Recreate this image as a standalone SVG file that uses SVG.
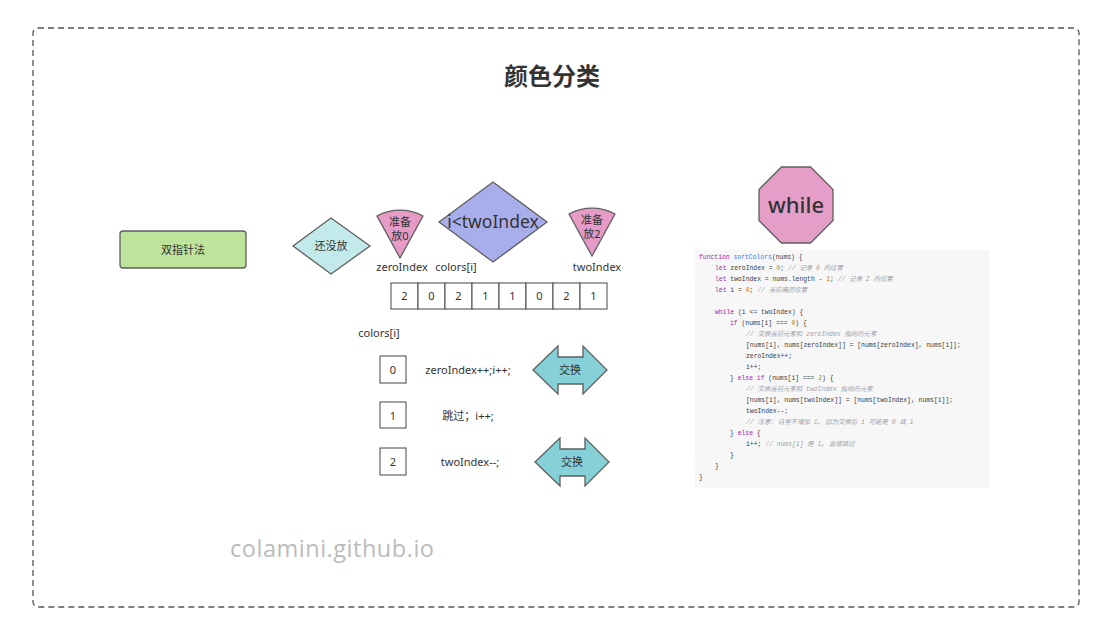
<svg xmlns="http://www.w3.org/2000/svg" width="1108" height="642" viewBox="0 0 1108 642">
<style>
.t{font-family:"Noto Sans","Noto Sans CJK SC",sans-serif;fill:#333;text-anchor:middle}
.s11{font-size:11px}
.shape{stroke:#5f5f5f;stroke-width:1.3}
.cell{fill:#fff;stroke:#444;stroke-width:1}
.code{font-family:"Liberation Mono","Noto Sans CJK SC",monospace;font-size:6.4px;fill:#383a42;white-space:pre}
.k{fill:#a626a4}.f{fill:#4078f2}.n{fill:#c07a00}.c{fill:#a0a1a7;font-style:italic}
</style>
<defs>
<path id="fan" d="M0,0 L-23,-42 A48,48 0 0 1 23,-42 Z"/>
<polygon id="dbl" points="0,0 25,-24 25,-13 50,-13 50,-24 74,0 50,24 50,14 25,14 25,24"/>
</defs>
<rect x="1" y="1" width="1106" height="640" fill="#fff"/>
<rect x="33" y="28" width="1046" height="579" rx="5" fill="none" stroke="#555" stroke-width="1.3" stroke-dasharray="6,4"/>
<text id="title" class="t" x="552" y="85" font-size="24" font-weight="bold">颜色分类</text>

<g id="node-method">
<rect class="shape" x="120" y="231" width="126" height="37" rx="3" fill="#bee39b"/>
<text class="t s11" x="183" y="254">双指针法</text>
</g>
<g id="node-notplaced">
<polygon class="shape" points="293,246 331,218 370,246 331,274" fill="#c2eaea"/>
<text class="t s11" x="331" y="250">还没放</text>
</g>
<g id="node-zero">
<use href="#fan" class="shape" x="400" y="258" fill="#e59bc6"/>
<text class="t s11" x="400" y="226">准备</text>
<text class="t s11" x="400" y="240">放0</text>
<text class="t s11" x="402" y="271">zeroIndex</text>
</g>
<g id="node-cond">
<polygon class="shape" points="439,222 493,182 547,222 493,262" fill="#a8adeb"/>
<text class="t" x="493" y="228" font-size="17.5">i&lt;twoIndex</text>
<text class="t s11" x="456" y="271">colors[i]</text>
</g>
<g id="node-two">
<use href="#fan" class="shape" x="592" y="256" fill="#e59bc6"/>
<text class="t s11" x="592" y="224">准备</text>
<text class="t s11" x="592" y="238">放2</text>
<text class="t s11" x="597" y="271">twoIndex</text>
</g>
<g id="node-array">
<rect class="cell" x="391" y="283" width="27" height="26"/>
<rect class="cell" x="418" y="283" width="27" height="26"/>
<rect class="cell" x="445" y="283" width="27" height="26"/>
<rect class="cell" x="472" y="283" width="27" height="26"/>
<rect class="cell" x="499" y="283" width="27" height="26"/>
<rect class="cell" x="526" y="283" width="27" height="26"/>
<rect class="cell" x="553" y="283" width="27" height="26"/>
<rect class="cell" x="580" y="283" width="27" height="26"/>
<text class="t s11" x="404.5" y="300">2</text>
<text class="t s11" x="431.5" y="300">0</text>
<text class="t s11" x="458.5" y="300">2</text>
<text class="t s11" x="485.5" y="300">1</text>
<text class="t s11" x="512.5" y="300">1</text>
<text class="t s11" x="539.5" y="300">0</text>
<text class="t s11" x="566.5" y="300">2</text>
<text class="t s11" x="593.5" y="300">1</text>
</g>
<text id="label-colors" class="t s11" x="379" y="337">colors[i]</text>
<g id="node-case0">
<rect class="cell" x="380" y="356" width="26" height="27"/>
<text class="t s11" x="393" y="374">0</text>
<text class="t s11" x="468" y="374">zeroIndex++;i++;</text>
</g>
<g id="node-case1">
<rect class="cell" x="380" y="402" width="26" height="26"/>
<text class="t s11" x="393" y="420">1</text>
<text class="t s11" x="468" y="420">跳过；i++;</text>
</g>
<g id="node-case2">
<rect class="cell" x="380" y="448" width="26" height="27"/>
<text class="t s11" x="393" y="466">2</text>
<text class="t s11" x="470" y="466">twoIndex--;</text>
</g>
<g id="node-swap1">
<use href="#dbl" class="shape" x="533" y="370" fill="#86d1d7"/>
<text class="t s11" x="570" y="374">交换</text>
</g>
<g id="node-swap2">
<use href="#dbl" class="shape" x="535" y="462" fill="#86d1d7"/>
<text class="t s11" x="572" y="466">交换</text>
</g>
<g id="node-while">
<polygon class="shape" points="781.5,167 810.5,167 833,189.5 833,220.5 810.5,243 781.5,243 759,220.5 759,189.5" fill="#e59ec8"/>
<text class="t" x="796" y="213" font-size="22" font-weight="500">while</text>
</g>
<g id="node-code">
<rect x="695" y="250" width="294" height="238" fill="#f7f7f7"/>
<text class="code" x="699" y="259"><tspan class="k">function</tspan> <tspan class="f">sortColors</tspan>(nums) {</text>
<text class="code" x="715" y="270"><tspan class="k">let</tspan> zeroIndex = <tspan class="n">0</tspan>; <tspan class="c">// 记录 0 的位置</tspan></text>
<text class="code" x="715" y="281"><tspan class="k">let</tspan> twoIndex = nums.length - <tspan class="n">1</tspan>; <tspan class="c">// 记录 2 的位置</tspan></text>
<text class="code" x="715" y="292"><tspan class="k">let</tspan> i = <tspan class="n">0</tspan>; <tspan class="c">// 当前遍历位置</tspan></text>
<text class="code" x="715" y="314"><tspan class="k">while</tspan> (i &lt;= twoIndex) {</text>
<text class="code" x="730" y="325"><tspan class="k">if</tspan> (nums[i] === <tspan class="n">0</tspan>) {</text>
<text class="code c" x="746" y="336">// 交换当前元素和 zeroIndex 指向的元素</text>
<text class="code" x="746" y="347">[nums[i], nums[zeroIndex]] = [nums[zeroIndex], nums[i]];</text>
<text class="code" x="746" y="358">zeroIndex++;</text>
<text class="code" x="746" y="369">i++;</text>
<text class="code" x="730" y="380">} <tspan class="k">else if</tspan> (nums[i] === <tspan class="n">2</tspan>) {</text>
<text class="code c" x="746" y="391">// 交换当前元素和 twoIndex 指向的元素</text>
<text class="code" x="746" y="402">[nums[i], nums[twoIndex]] = [nums[twoIndex], nums[i]];</text>
<text class="code" x="746" y="413">twoIndex--;</text>
<text class="code c" x="746" y="424">// 注意: 这里不增加 i, 因为交换后 i 可能是 0 或 1</text>
<text class="code" x="730" y="435">} <tspan class="k">else</tspan> {</text>
<text class="code" x="746" y="446">i++; <tspan class="c">// nums[i] 是 1, 直接跳过</tspan></text>
<text class="code" x="730" y="457">}</text>
<text class="code" x="715" y="468">}</text>
<text class="code" x="699" y="479">}</text>
</g>
<g id="connectors"></g>
<text id="watermark" x="230" y="557" font-family="'Open Sans','Noto Sans',sans-serif" font-size="23.5" textLength="204" fill="#bbb">colamini.github.io</text>
</svg>
